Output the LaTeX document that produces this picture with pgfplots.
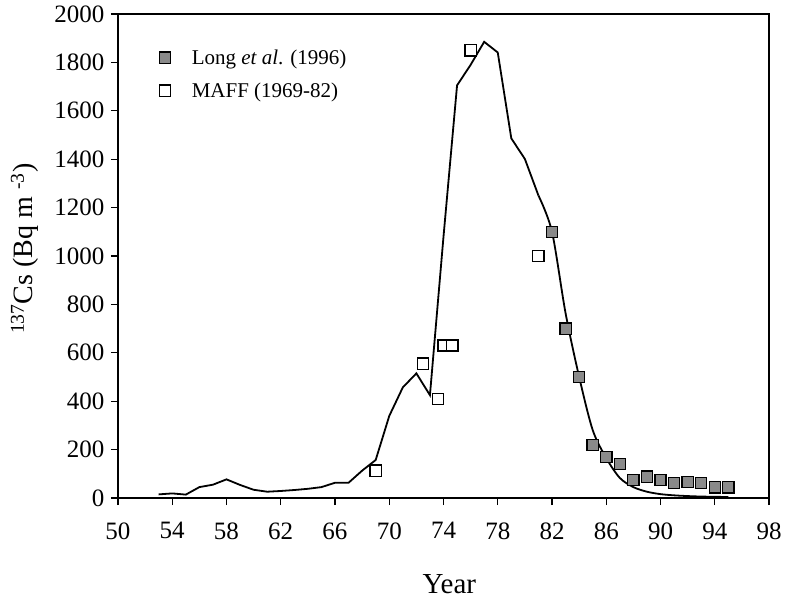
\documentclass[border=0pt]{standalone}
\usepackage{fontspec}
\setmainfont{Liberation Serif}
\usepackage{pgfplots}
\pgfplotsset{compat=1.18}
\definecolor{markgray}{RGB}{138,138,138}
\begin{document}
\begin{tikzpicture}
\begin{axis}[
  scale only axis, width=651bp, height=484bp,
  xmin=50, xmax=98, ymin=0, ymax=2000,
  xtick={50,54,...,98}, ytick={0,200,...,2000},
  tick align=outside, tick pos=left, major tick length=7bp,
  axis line style={line width=1.3bp},
  every tick/.style={line width=1.3bp, black},
  ticklabel style={font=\fontsize{25bp}{29bp}\selectfont},
  xticklabel style={yshift=-14bp},
  yticklabel style={xshift=-3bp},
  /pgf/number format/assume math mode=true,
  /pgf/number format/1000 sep={},
  xlabel={Year},
  ylabel={\textsuperscript{137}Cs (Bq m \textsuperscript{-3})},
  xlabel style={font=\fontsize{29bp}{34bp}\selectfont,
    at={(axis description cs:0.509,0)}, anchor=center, yshift=-86bp},
  ylabel style={font=\fontsize{28bp}{33bp}\selectfont,
    at={(axis description cs:-0.143,0.515)}, anchor=center},
  legend style={draw=none, fill=none, at={(axis description cs:0.059,0.935)}, anchor=north west,
    font=\fontsize{21bp}{25bp}\selectfont, row sep=13bp},
  legend cell align=left,
]
\addplot[black, line width=1.8bp, forget plot] coordinates {
(53,15) (54,19) (55,14) (56,45) (57,55) (58,77) (59,54) (60,34) (61,26)
(62,29) (63,33) (64,38) (65,45) (66,63) (67,63) (68,113) (69,157) (70,339)
(71,457) (72,515) (73,425) (74,1080) (75,1705) (76,1790) (77,1885) (78,1841)
(79,1486) (80,1401) (81,1250)
};
\addplot[black, line width=1.8bp, smooth, forget plot] coordinates {
(81,1250) (82,1100) (83,764) (84,501) (85,281) (86,165) (87,83) (88,45)
(89,26) (90,16) (91,11) (92,8) (93,6) (94,5) (95,4)
};
\addplot[only marks, mark=square*, mark size=5.6bp,
  mark options={fill=markgray, draw=black, line width=1.3bp}] coordinates {
(82,1100) (83,700) (84,500) (85,220) (86,170) (87,140) (88,74) (89,88)
(90,74) (91,61) (92,66) (93,61) (94,44) (95,44)
};
\addlegendentry{\hspace{19bp}Long \textit{et al}. (1996)}
\addplot[only marks, mark=square*, mark size=5.6bp,
  mark options={fill=white, draw=black, line width=1.3bp}] coordinates {
(69,113) (72.5,555) (73.6,410) (74,630) (74.65,630) (76,1850) (81,1000)
};
\addlegendentry{\hspace{19bp}MAFF (1969-82)}
\end{axis}
\pgfresetboundingbox
\path (current axis.south west) ++(-118bp,-105bp) coordinate (bl);
\path (current axis.north east) ++(17bp,14bp) coordinate (tr);
\path[use as bounding box] (bl) rectangle (tr);
\end{tikzpicture}
\end{document}
